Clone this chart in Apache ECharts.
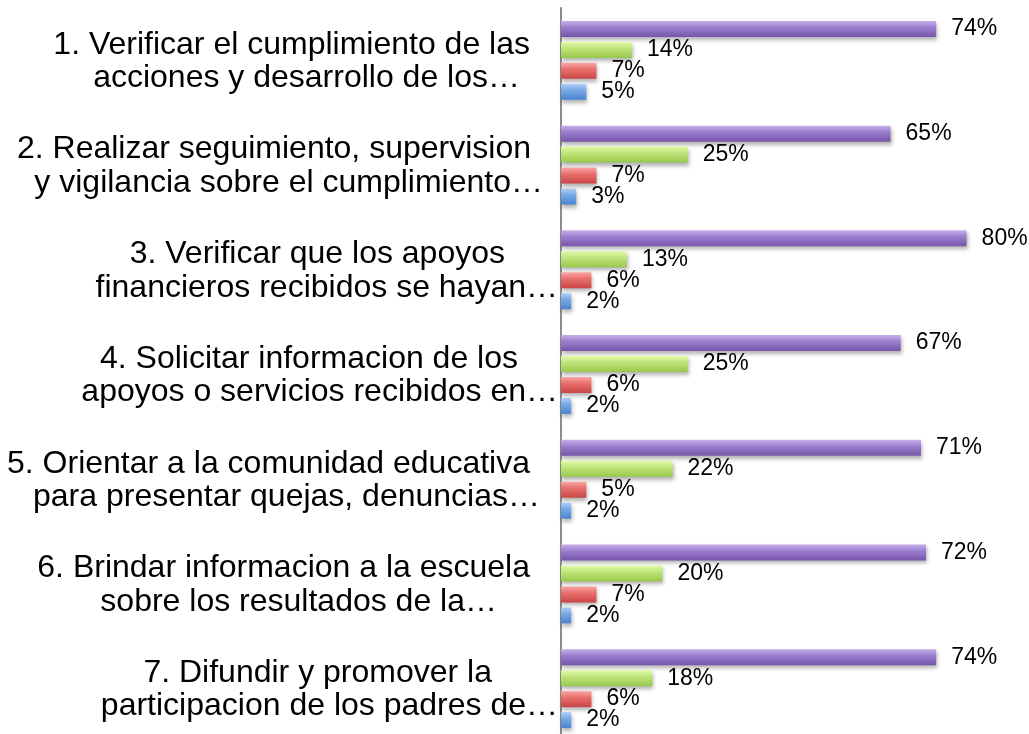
<!DOCTYPE html>
<html>
<head>
<meta charset="utf-8">
<script src="https://cdn.jsdelivr.net/npm/echarts@6/dist/echarts.min.js"></script>
<style>
html,body{margin:0;padding:0;background:#fff;}
#chart{width:1029px;height:734px;}
</style>
</head>
<body>
<div id="chart"></div>
<script>
// ---- data ----
var categories = [
  "1. Verificar el cumplimiento de las\nacciones y desarrollo de los…",
  "2. Realizar seguimiento, supervision\ny vigilancia sobre el cumplimiento…",
  "3. Verificar que los apoyos\nfinancieros recibidos se hayan…",
  "4. Solicitar informacion de los\napoyos o servicios recibidos en…",
  "5. Orientar a la comunidad educativa\npara presentar quejas, denuncias…",
  "6. Brindar informacion a la escuela\nsobre los resultados de la…",
  "7. Difundir y promover la\nparticipacion de los padres de…"
];
var seriesPurple = [74, 65, 80, 67, 71, 72, 74];
var seriesGreen  = [14, 25, 13, 25, 22, 20, 18];
var seriesRed    = [7, 7, 6, 6, 5, 7, 6];
var seriesBlue   = [5, 3, 2, 2, 2, 2, 2];

// ---- layout / style (not data) ----
// right edge (px) of each label line, as in the reference
var lineRightEdges = [[530, 520], [531, 543], [505, 558], [518, 558], [530, 540], [530, 497], [492, 558]];
var anchorX = 560;

var rich = {};
lineRightEdges.forEach(function (pair, i) {
  pair.forEach(function (edge, j) {
    rich['l' + i + '_' + j] = {
      fontFamily: 'Liberation Sans, Arial, sans-serif',
      fontSize: 32,
      lineHeight: 36,
      color: '#000',
      align: 'right',
      padding: [j === 0 ? 5 : 0, Math.max(0, anchorX - edge), 0, 0]
    };
  });
});

function makeSeries(name, data, top, mid, bottom) {
  return {
    name: name,
    type: 'bar',
    data: data,
    barWidth: 16,
    barGap: '31%',
    itemStyle: {
      color: new echarts.graphic.LinearGradient(0, 0, 0, 1, [
        { offset: 0, color: top },
        { offset: 0.4, color: mid },
        { offset: 1, color: bottom }
      ]),
      shadowColor: 'rgba(0,0,0,0.3)',
      shadowBlur: 4,
      shadowOffsetX: 1,
      shadowOffsetY: 3
    },
    label: {
      show: true,
      position: 'right',
      distance: 15,
      formatter: '{c}%',
      fontFamily: 'Liberation Sans, Arial, sans-serif',
      fontSize: 23,
      color: '#000'
    }
  };
}

var chart = echarts.init(document.getElementById('chart'), null, { renderer: 'canvas' });
chart.setOption({
  animation: false,
  backgroundColor: '#ffffff',
  grid: { left: 561, top: 8, width: 507, height: 733, containLabel: false, outerBoundsMode: 'none' },
  xAxis: {
    type: 'value',
    min: 0,
    max: 100,
    show: false
  },
  yAxis: {
    type: 'category',
    inverse: true,
    data: categories,
    axisLine: { show: true, lineStyle: { color: '#8c8c8c', width: 2 } },
    axisTick: { show: false },
    axisLabel: {
      interval: 0,
      margin: 1,
      align: 'right',
      formatter: function (value, index) {
        var lines = value.split('\n');
        return lines.map(function (ln, j) { return '{l' + index + '_' + j + '|' + ln + '}'; }).join('\n');
      },
      rich: rich
    }
  },
  series: [
    makeSeries('Morado', seriesPurple, '#c6b0e8', '#9c7ecf', '#7755a8'),
    makeSeries('Verde', seriesGreen, '#e2fbaa', '#bfe57a', '#98c84c'),
    makeSeries('Rojo', seriesRed, '#f9a6a4', '#e8706e', '#c94544'),
    makeSeries('Azul', seriesBlue, '#aecff6', '#78a8e6', '#4a85d2')
  ]
});
</script>
</body>
</html>
